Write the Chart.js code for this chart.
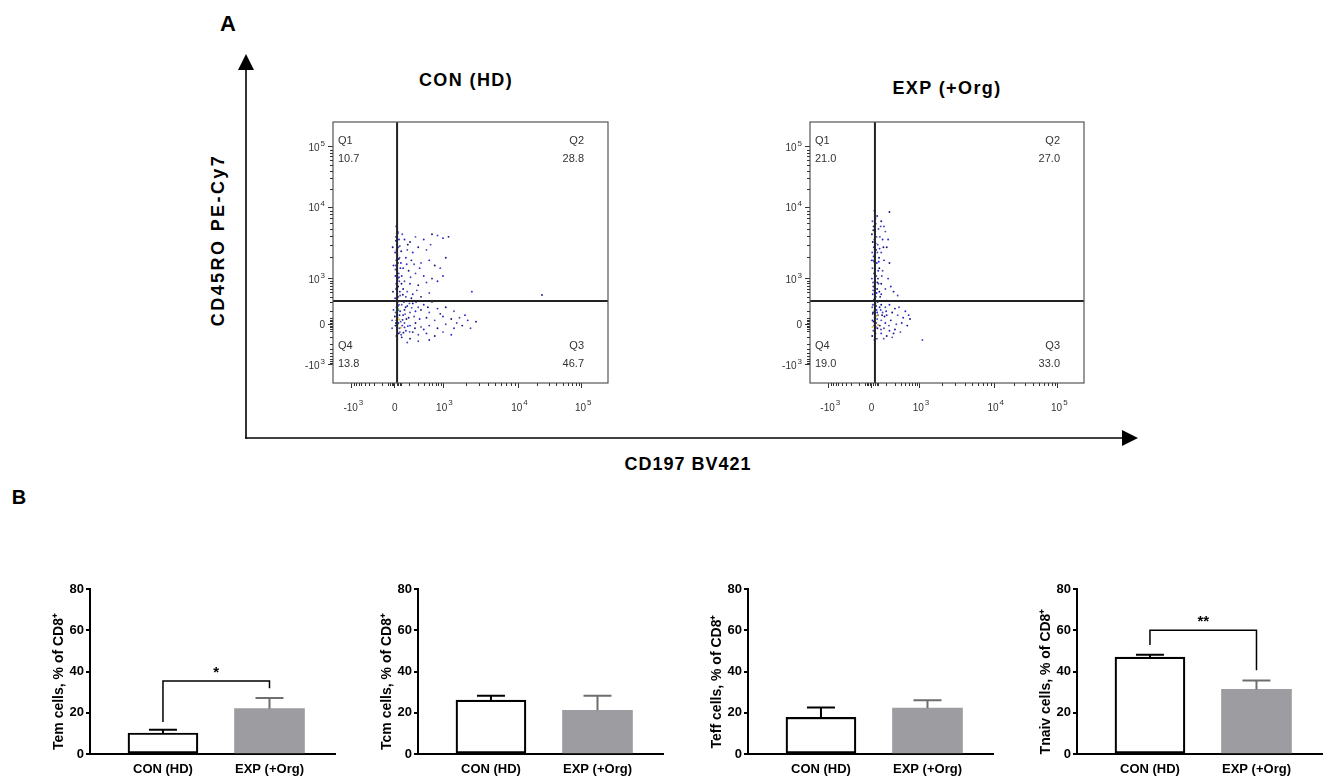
<!DOCTYPE html>
<html><head><meta charset="utf-8">
<script src="https://cdn.jsdelivr.net/npm/chart.js@4.4.1/dist/chart.umd.min.js"></script>
<style>
html,body{margin:0;padding:0;background:#fff;}
#fig{position:relative;width:1329px;height:781px;overflow:hidden;font-family:"Liberation Sans",Arial,Helvetica,sans-serif;}
.lbl{position:absolute;font-weight:bold;color:#000;white-space:nowrap;transform:translate(-50%,-50%);}
canvas{position:absolute;}
</style></head><body>
<div id="fig">
  <svg width="1329" height="781" style="position:absolute;left:0;top:0">
    <line x1="246" y1="66" x2="246" y2="438.8" stroke="#000" stroke-width="1.6"/>
    <polygon points="246,54 238,70 254,70" fill="#000"/>
    <line x1="245.2" y1="438" x2="1124" y2="438" stroke="#000" stroke-width="1.6"/>
    <polygon points="1138,438 1122,430 1122,446" fill="#000"/>
  </svg>
  <div class="lbl" style="left:228px;top:24px;font-size:22px">A</div>
  <div class="lbl" style="left:19px;top:497px;font-size:20px">B</div>
  <div class="lbl" style="left:466px;top:80px;font-size:18px;letter-spacing:1.4px">CON (HD)</div>
  <div class="lbl" style="left:947px;top:88px;font-size:18px;letter-spacing:1.4px">EXP (+Org)</div>
  <div class="lbl" style="left:218px;top:240px;font-size:18px;letter-spacing:2.4px;transform:translate(-50%,-50%) rotate(-90deg)">CD45RO PE-Cy7</div>
  <div class="lbl" style="left:688px;top:464px;font-size:18px;letter-spacing:1px">CD197 BV421</div>
</div>
<script>
// ---------------- DATA ----------------
const groups = ['CON (HD)', 'EXP (+Org)'];

// Flow plots: display-channel coordinates (0..100 of plot frame)
const flowTickPos = [6.9, 22.5, 40.0, 67.3, 90.5];
const flowTickBase = ['-10', '0', '10', '10', '10'];
const flowTickExp = ['3', '', '3', '4', '5'];
const quadNames = ['Q1', 'Q2', 'Q3', 'Q4'];
const conQuadPct = [10.7, 28.8, 46.7, 13.8];
const expQuadPct = [21.0, 27.0, 33.0, 19.0];
const conGate = [23.3, 31.4];
const expGate = [23.7, 31.4];

const conDots = [
 [23.0,60],[23.5,58],[22.8,56],[24.0,55],[23.2,53],[23.8,52],[22.6,50],[23.4,49],[24.2,48],[23.0,47],[23.6,46],[22.8,45],[24.5,44],[23.2,43],[23.9,42],[22.7,41],[23.5,40],[24.1,39],[23.0,38],[23.7,37],[22.9,36],[24.3,35],[23.3,34],[23.8,33],[22.6,32.5],[23.5,31],[24.0,30],[23.1,29],[23.7,28],[22.8,27],[24.2,26],[23.4,25],[23.0,24],[23.8,23],[22.7,22],[24.1,21],[23.3,20],[23.9,19],[23.0,18],[24.4,27.5],[22.5,25.5],[24.6,23.5],
 [23.6,57.5],[22.9,54.5],[24.3,52.5],[23.1,51],[23.9,47.5],[22.7,43.5],[24.0,40.5],[23.2,36.5],[24.4,33.5],[23.6,29.5],[22.9,23],[24.3,19.5],
 [26,55],[28,54],[30,56],[33,55],[36,57],[38,56.5],[40,55.5],[42,56],[27,51],[29,50],[31,52],[34,51],[26.5,48],[28.5,47],[32,46],[35,47],[37,45],[39,44],[25.5,44],[27.5,43],[30,42],[33,41],[36,40],[26,39],[28,38],[31,37.5],[34,38.5],[38,39],[25.5,36],[27,35],[29,34],[32,33],[35,34.5],[26.5,33],[28.5,32.5],[30.5,35.5],[40,41],[41,48],[29.5,45.5],[25,41],[24.8,50.5],[25.2,57],[26.8,45.5],[24.9,38],
 [28.2,40.5],[31.5,44],[27.2,53],[35.5,53],[24.7,46],[25.4,33.8],
 [25,30],[27,29.5],[29,30.5],[31,29],[33,30],[26,28],[28,27],[30,27.5],[32,28],[35,27],[38,28.5],[41,29],[44,27.5],[25.5,26],[27.5,25],[29.5,25.5],[31.5,24.5],[34,25],[37,24],[40,25.5],[43,24.5],[46,25],[49,24],[52,23.5],[26,23],[28,22],[30,23],[32,21.5],[35,22],[38,21],[41,22.5],[44,21],[47,22],[50,21],[26.5,20],[29,19.5],[31,18.5],[34,19],[37,18],[40,19.5],[43,18.5],[28,17],[31,16],[35,16.5],[25,17.5],[27,15.5],[33,20.5],[39,26.5],[45,23],[48,26],[25.3,24.2],[26.2,26.4],[27.2,21.8],[25.6,19.3],[28.6,28.8],
 [25.8,31],[26.4,29],[27.8,30.5],[25.2,22],[26.7,24.5],[24.8,18.5],[30.2,31],[34.5,29],[36,31],[26,21.3],[29.8,21],[27.9,19.6],
 [50.5,35],[76,33.7],
 [21.5,24],[22,28],[21.8,35],[21.5,21],[22,45],[21.7,52]
];
const conHot = [[23.5,22.5],[24.1,24.3],[23.2,26.2],[24.6,21.2],[23.8,28.3]];

const expDots = [
 [23.5,66],[24.5,64],[22.8,62],[24,61],[23.2,60],[25,59],[23.8,58],[22.6,57],[24.3,56],[23.5,55],[22.9,54],[24.7,53],[23.3,52],[24.1,51],[22.7,50],[23.6,49],[25.2,48],[23.0,47],[24.4,46],[23.7,45],[22.8,44],[24.9,43],[23.4,42],[24.2,41],[22.6,40],[23.8,39],[25.0,38],[23.1,37],[24.5,36],[23.6,35],[22.9,34],[24.0,33],[23.3,32],[24.7,31],[23.5,30],[22.7,29],[24.3,28],[23.0,27],[24.8,26],[23.6,25],[22.8,24],[24.2,23],[23.4,22],[24.6,21],[23.1,20],[23.9,19],[22.7,18],[24.4,17],[23.5,16.5],[25.3,44],[25.5,56],[22.5,47],[25.6,33],[24.0,53.5],[23.2,48.5],[24.6,38.5],[23.0,35.5],[24.1,29.5],[22.9,26.5],[24.5,24.5],
 [23.9,63],[23.1,58.5],[24.6,50],[23.4,46.5],[24.8,40],[23.0,38.5],[24.3,34.5],[23.8,31.5],[22.9,30],[24.5,27],[23.2,23.5],[24.0,21.5],[23.7,18],
 [26,62],[27.5,58],[26.5,55],[28,52],[26,50],[27,47],[29,46],[26.5,43],[28.5,40],[26,38],[27.5,36],[29.5,37],[30.5,35],[32,33.5],[26,34],[29,65.5],[27,60],[28.5,55],
 [25.3,35],[26.2,41],[25.1,46.5],[26.8,52],[25.8,60],[25.4,51.5],
 [26,30],[27.5,29],[29,30],[31,28.5],[26.5,27],[28,26],[30,27],[32,26],[34,25],[36.5,24.5],[26,24],[27.5,23],[29.5,24],[31.5,22.5],[33.5,23],[35.5,22],[27,21],[29,20],[31,20.5],[33,19.5],[26,19],[28,18],[30,17.5],[36,26],[25.5,22],[41,16.5],[25.8,28],[27.2,25.5],[28.8,22],
 [25.4,29],[26.3,26],[25.9,20.5],[27.8,27.5],[28,31.5],[32.5,29],[34.8,27.5],[30.5,19],[26.9,17]
];
const expHot = [[23.8,23.5],[24.3,25.8],[23.4,27.5],[24.9,22.2],[23.9,30.5],[22.8,21.5]];

// Bar panels (mean % of CD8+, upper SEM)
const panelTitles = ['Tem cells, % of CD8⁺', 'Tcm cells, % of CD8⁺', 'Teff cells, % of CD8⁺', 'Tnaiv cells, % of CD8⁺'];
const temMean = [10.2, 22.0],  temErr = [1.5, 5.2];
const tcmMean = [26.1, 21.2],  tcmErr = [2.2, 7.0];
const teffMean = [17.8, 22.3], teffErr = [4.7, 3.8];
const tnaivMean = [47.0, 31.3], tnaivErr = [1.1, 4.3];
const yTicks = [0, 20, 40, 60, 80];
// significance brackets: [bracket level, left leg end, right leg end, label]
const temSig = [35.4, 15.5, 31.9, '*'];
const tnaivSig = [60.0, 52.8, 40.6, '**'];

// ---------------- RENDER ----------------
const FONT = '"Liberation Sans", Arial, Helvetica, sans-serif';
Chart.defaults.font.family = FONT;
Chart.defaults.animation = false;
const fig = document.getElementById('fig');
function makeCanvas(left, top, w, h) {
  const c = document.createElement('canvas');
  c.width = w; c.height = h;
  c.style.left = left + 'px'; c.style.top = top + 'px';
  c.style.width = w + 'px'; c.style.height = h + 'px';
  fig.appendChild(c);
  return c;
}

function minorTicks(majors) {
  const out = [];
  const [pn, p0, p3, p4, p5] = majors;
  for (let m = 2; m <= 9; m++) {
    const f = Math.log10(m);
    out.push(p0 - (p0 - pn) * f);
    out.push(p0 + (p3 - p0) * f);
    out.push(p3 + (p4 - p3) * f);
    out.push(p4 + (p5 - p4) * f);
  }
  for (let k = 1; k <= 4; k++) { out.push(p0 + k * 0.6); out.push(p0 - k * 0.6); }
  return out;
}

function flowChart(canvas, dots, hot, quadPct, gate) {
  const minors = minorTicks(flowTickPos);
  const axisCommon = {
    type: 'linear', min: 0, max: 100,
    afterBuildTicks: s => { s.ticks = flowTickPos.map(v => ({value: v})); },
    grid: {drawOnChartArea: false, color: '#333', lineWidth: 1, tickLength: 5},
    border: {display: false},
    ticks: {display: false}
  };
  return new Chart(canvas, {
    type: 'scatter',
    data: {datasets: [
      {type: 'line', data: [{x: gate[0], y: 0}, {x: gate[0], y: 100}], borderColor: '#222', borderWidth: 2, pointRadius: 0},
      {type: 'line', data: [{x: 0, y: gate[1]}, {x: 100, y: gate[1]}], borderColor: '#222', borderWidth: 2, pointRadius: 0},
      {data: hot.map(p => ({x: p[0], y: p[1]})), pointRadius: 1, borderWidth: 0,
        pointBackgroundColor: (c) => ['#3fbf3f', '#d6c21a', '#39c39a', '#e0a020', '#4fc44f', '#d8d030'][c.dataIndex % 6]},
      {data: dots.map(p => ({x: p[0], y: p[1]})), pointRadius: 0.95, borderWidth: 0,
        pointBackgroundColor: (c) => (c.dataIndex % 3 === 0 ? '#2626d4' : (c.dataIndex % 3 === 1 ? '#16167e' : '#4a4ab8'))}
    ]},
    options: {
      responsive: false,
      layout: {padding: {top: 12, right: 12, left: 0, bottom: 0}},
      plugins: {legend: {display: false}, tooltip: {enabled: false}},
      scales: {
        x: Object.assign({}, axisCommon, {afterFit: s => { s.height = 42; }}),
        y: Object.assign({}, axisCommon, {afterFit: s => { s.width = 43; }})
      }
    },
    plugins: [{
      id: 'frame',
      afterDraw(chart) {
        const {ctx, chartArea: a, scales: {x, y}} = chart;
        ctx.save();
        ctx.strokeStyle = '#555'; ctx.lineWidth = 1.2;
        ctx.strokeRect(a.left, a.top, a.right - a.left, a.bottom - a.top);
        // minor ticks
        ctx.strokeStyle = '#333'; ctx.lineWidth = 1;
        ctx.beginPath();
        minors.forEach(v => {
          const px = Math.round(x.getPixelForValue(v)) + 0.5;
          ctx.moveTo(px, a.bottom); ctx.lineTo(px, a.bottom + 3);
          const py = Math.round(y.getPixelForValue(v)) + 0.5;
          ctx.moveTo(a.left, py); ctx.lineTo(a.left - 3, py);
        });
        ctx.stroke();
        // tick labels with superscript exponents
        ctx.fillStyle = '#333';
        ctx.textBaseline = 'alphabetic';
        const bf = '10px ' + FONT, ef = '8px ' + FONT;
        flowTickPos.forEach((v, i) => {
          const base = flowTickBase[i], ex = flowTickExp[i];
          ctx.font = bf; const bw = ctx.measureText(base).width;
          ctx.font = ef; const ew = ex ? ctx.measureText(ex).width + 1 : 0;
          const px = x.getPixelForValue(v);
          const sx = px - bw / 2 - ew * 0.25;
          ctx.textAlign = 'left';
          ctx.font = bf; ctx.fillText(base, sx, a.bottom + 28);
          if (ex) { ctx.font = ef; ctx.fillText(ex, sx + bw + 1, a.bottom + 22); }
          const py = y.getPixelForValue(v);
          const rx = a.left - 8;
          ctx.font = bf; ctx.fillText(base, rx - ew - bw, py + 4);
          if (ex) { ctx.font = ef; ctx.fillText(ex, rx - ew + 1, py - 1); }
        });
        // quadrant labels
        ctx.font = '11px ' + FONT;
        ctx.textBaseline = 'middle';
        const L = a.left + 5, R = a.right - 24;
        ctx.textAlign = 'left';
        ctx.fillText(quadNames[0], L, a.top + 19);
        ctx.fillText(quadPct[0].toFixed(1), L, a.top + 37);
        ctx.fillText(quadNames[3], L, a.bottom - 37);
        ctx.fillText(quadPct[3].toFixed(1), L, a.bottom - 19);
        ctx.textAlign = 'right';
        ctx.fillText(quadNames[1], R, a.top + 19);
        ctx.fillText(quadPct[1].toFixed(1), R, a.top + 37);
        ctx.fillText(quadNames[2], R, a.bottom - 37);
        ctx.fillText(quadPct[2].toFixed(1), R, a.bottom - 19);
        ctx.restore();
      }
    }]
  });
}

flowChart(makeCanvas(290, 110, 330, 315), conDots, conHot, conQuadPct, conGate);
flowChart(makeCanvas(767, 110, 329, 315), expDots, expHot, expQuadPct, expGate);

function barChart(axisX, title, means, errs, sig) {
  const W = 43 + 245 + 5, H = 206;
  const canvas = makeCanvas(axisX - 43, 575, W, H);
  return new Chart(canvas, {
    type: 'bar',
    data: {datasets: [{
      data: means.map((m, i) => ({x: i, y: m})),
      backgroundColor: ['#ffffff', '#9d9ca1'],
      borderColor: ['#000000', 'rgba(0,0,0,0)'],
      borderWidth: [2.2, 0],
      borderSkipped: false,
      barThickness: 70
    }]},
    options: {
      responsive: false,
      layout: {padding: {top: 14, right: 5, left: 0, bottom: 0}},
      plugins: {legend: {display: false}, tooltip: {enabled: false}},
      scales: {
        x: {
          type: 'linear', min: -0.685, max: 1.615, offset: false,
          afterBuildTicks: s => { s.ticks = groups.map((g, i) => ({value: i})); },
          afterFit: s => { s.height = 27; },
          grid: {display: false, drawTicks: false},
          border: {display: true, color: '#000', width: 2},
          ticks: {callback: v => groups[v] ?? '', font: {size: 13, weight: 'bold'}, color: '#000', padding: 8, maxRotation: 0, autoSkip: false}
        },
        y: {
          min: 0, max: 80,
          afterBuildTicks: s => { s.ticks = yTicks.map(v => ({value: v})); },
          afterFit: s => { s.width = 43; },
          grid: {drawOnChartArea: false, color: '#000', lineWidth: 2, tickLength: 4},
          border: {display: true, color: '#000', width: 2},
          ticks: {font: {size: 13, weight: 'bold'}, color: '#000', padding: 2},
          title: {display: false}
        }
      }
    },
    plugins: [{
      id: 'errAndSig',
      afterDatasetsDraw(chart) {
        const {ctx, chartArea: a, scales: {x, y}} = chart;
        ctx.save();
        means.forEach((m, i) => {
          const px = x.getPixelForValue(i);
          const y0 = y.getPixelForValue(m), y1 = y.getPixelForValue(m + errs[i]);
          ctx.strokeStyle = i === 0 ? '#000' : '#6e6e6e';
          ctx.lineWidth = 2;
          ctx.beginPath();
          ctx.moveTo(px, y0); ctx.lineTo(px, y1);
          ctx.moveTo(px - 14, y1); ctx.lineTo(px + 14, y1);
          ctx.stroke();
        });
        if (sig) {
          const xa = x.getPixelForValue(0), xb = x.getPixelForValue(1);
          const yl = y.getPixelForValue(sig[0]);
          ctx.strokeStyle = '#000'; ctx.lineWidth = 1.5;
          ctx.beginPath();
          ctx.moveTo(xa, y.getPixelForValue(sig[1])); ctx.lineTo(xa, yl);
          ctx.lineTo(xb, yl); ctx.lineTo(xb, y.getPixelForValue(sig[2]));
          ctx.stroke();
          ctx.fillStyle = '#000';
          ctx.font = 'bold 15px ' + FONT;
          ctx.textAlign = 'center'; ctx.textBaseline = 'middle';
          ctx.fillText(sig[3], (xa + xb) / 2, yl - 8);
        }
        // rotated y-axis title
        ctx.fillStyle = '#000';
        ctx.font = 'bold 14px ' + FONT;
        ctx.translate(a.left - 31, (a.top + a.bottom) / 2 + 10);
        ctx.rotate(-Math.PI / 2);
        ctx.textAlign = 'center'; ctx.textBaseline = 'middle';
        ctx.fillText(title, 0, 0);
        ctx.restore();
      }
    }]
  });
}

barChart(90, panelTitles[0], temMean, temErr, temSig);
barChart(418, panelTitles[1], tcmMean, tcmErr, null);
barChart(748, panelTitles[2], teffMean, teffErr, null);
barChart(1077, panelTitles[3], tnaivMean, tnaivErr, tnaivSig);
</script>
</body></html>
